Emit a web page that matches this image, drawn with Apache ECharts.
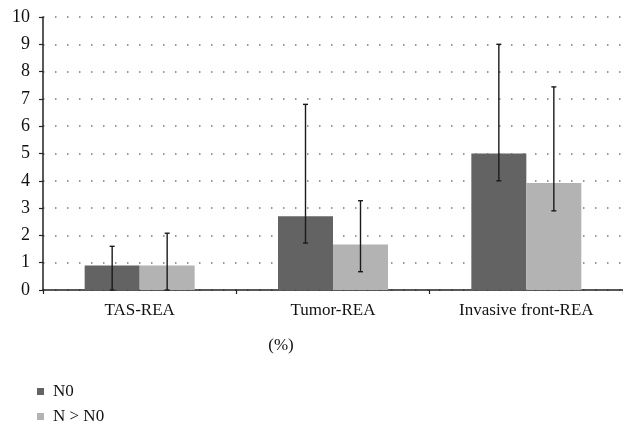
<!DOCTYPE html>
<html>
<head>
<meta charset="utf-8">
<script src="https://cdn.jsdelivr.net/npm/echarts@6/dist/echarts.min.js"></script>
<style>
  html, body { margin: 0; padding: 0; background: #fff; }
  #chart { width: 623px; height: 425px; }
</style>
</head>
<body>
<div id="chart"></div>
<script>
// Categories and group means (%)
const categories = ['TAS-REA', 'Tumor-REA', 'Invasive front-REA'];
const seriesNames = ['N0', 'N > N0'];
const meanN0 = [0.9, 2.7, 5.0];
const meanN1 = [0.9, 1.67, 3.92];
// Error bar ranges [low, high]
const errLowN0 = [0, 1.72, 4.0];
const errHighN0 = [1.6, 6.8, 9.0];
const errLowN1 = [0, 0.67, 2.9];
const errHighN1 = [2.08, 3.27, 7.44];
const yTicks = [0, 10, 1]; // min, max, interval

const FONT = '"Liberation Serif", "DejaVu Serif", serif';
const TEXT = '#111';
const BAR_W = 55;

function errData(lows, highs) {
  return categories.map((c, i) => [i, lows[i], highs[i]]);
}

function errorBarSeries(lows, highs, offset) {
  return {
    type: 'custom',
    name: 'err' + offset,
    z: 10,
    silent: true,
    encode: { x: 0, y: [1, 2] },
    data: errData(lows, highs),
    renderItem: function (params, api) {
      const xi = api.value(0);
      const lo = api.coord([xi, api.value(1)]);
      const hi = api.coord([xi, api.value(2)]);
      const x = lo[0] + offset;
      const cap = 2.5;
      const style = { stroke: '#1a1a1a', lineWidth: 1.4 };
      return {
        type: 'group',
        children: [
          { type: 'line', shape: { x1: x, y1: lo[1], x2: x, y2: hi[1] }, style: style },
          { type: 'line', shape: { x1: x - cap, y1: hi[1], x2: x + cap, y2: hi[1] }, style: style },
          { type: 'line', shape: { x1: x - cap, y1: lo[1], x2: x + cap, y2: lo[1] }, style: style }
        ]
      };
    }
  };
}

const chart = echarts.init(document.getElementById('chart'), null, { renderer: 'canvas' });

chart.setOption({
  animation: false,
  backgroundColor: '#ffffff',
  grid: { left: 43, right: 0, top: 17, bottom: 135, containLabel: false },
  legend: {
    data: seriesNames,
    orient: 'vertical',
    left: 37,
    top: 383,
    height: 60,
    padding: 0,
    icon: 'rect',
    itemWidth: 7,
    itemHeight: 7,
    itemGap: 8,
    textStyle: { fontFamily: FONT, fontSize: 17, color: TEXT, padding: [0, 0, 0, 4] }
  },
  graphic: [{
    type: 'text',
    x: 281,
    y: 346,
    style: {
      text: '(%)',
      font: '17px ' + FONT,
      fill: TEXT,
      align: 'center',
      verticalAlign: 'middle'
    }
  }],
  xAxis: {
    type: 'category',
    data: categories,
    axisLine: { lineStyle: { color: '#222', width: 1.5 } },
    axisTick: { show: true, length: 4, lineStyle: { color: '#222', width: 1.2 } },
    axisLabel: { fontFamily: FONT, fontSize: 17, color: TEXT, margin: 12 },
    splitLine: { show: false }
  },
  yAxis: {
    type: 'value',
    min: yTicks[0],
    max: yTicks[1],
    interval: yTicks[2],
    axisLine: { show: true, lineStyle: { color: '#222', width: 1.5 } },
    axisTick: { show: true, length: 4, lineStyle: { color: '#222', width: 1.2 } },
    axisLabel: { fontFamily: FONT, fontSize: 18, color: TEXT, margin: 13 },
    splitLine: {
      show: true,
      lineStyle: { color: '#777', width: 1.5, type: [1.5, 10.5] }
    }
  },
  series: [
    {
      name: seriesNames[0],
      type: 'bar',
      data: meanN0,
      barWidth: BAR_W,
      barGap: '0%',
      itemStyle: { color: '#636363' }
    },
    {
      name: seriesNames[1],
      type: 'bar',
      data: meanN1,
      barWidth: BAR_W,
      barGap: '0%',
      itemStyle: { color: '#b3b3b3' }
    },
    errorBarSeries(errLowN0, errHighN0, -BAR_W / 2),
    errorBarSeries(errLowN1, errHighN1, BAR_W / 2)
  ]
});
</script>
</body>
</html>
